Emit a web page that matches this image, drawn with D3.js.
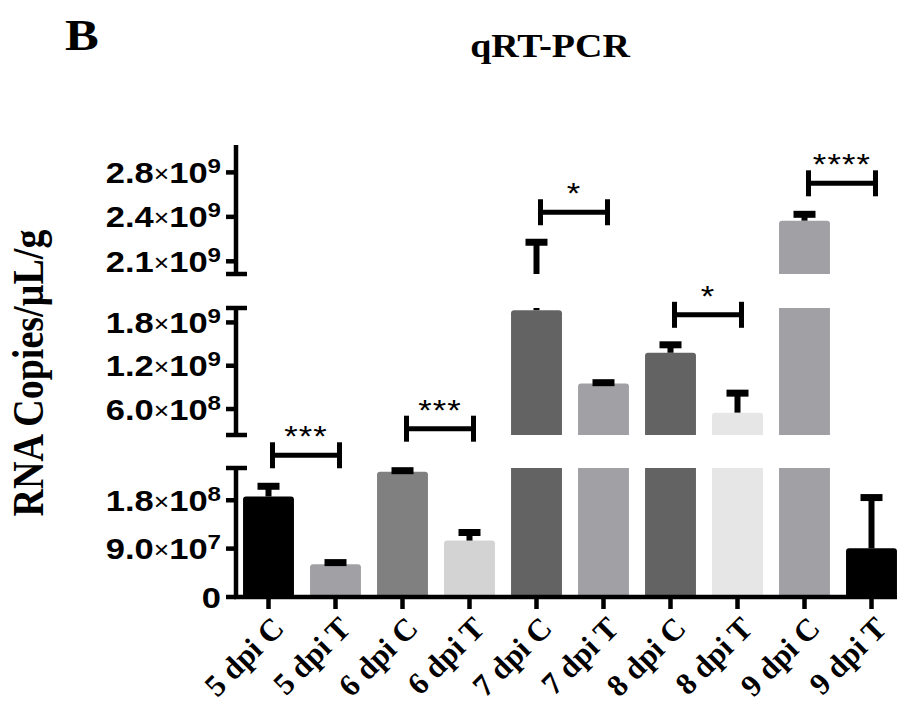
<!DOCTYPE html>
<html>
<head>
<meta charset="utf-8">
<script src="https://cdn.jsdelivr.net/npm/d3@7"></script>
<style>
  body { margin: 0; background: #fff; }
  svg { display: block; }
</style>
</head>
<body>
<svg id="chart" width="897" height="707"></svg>
<script>
// values
var categories = ['5 dpi C', '5 dpi T', '6 dpi C', '6 dpi T', '7 dpi C', '7 dpi T', '8 dpi C', '8 dpi T', '9 dpi C', '9 dpi T'];
var means = [1.87e8, 6.1e7, 2.33e8, 1.05e8, 1.97e9, 9.55e8, 1.38e9, 5.5e8, 2.42e9, 9.05e7];
var upper = [2.06e8, 6.4e7, 2.35e8, 1.2e8, 2.25e9, 9.65e8, 1.49e9, 8.2e8, 2.47e9, 1.85e8];
var fills = ['#000000', '#a1a0a5', '#808080', '#d3d3d3', '#636363', '#a1a0a5', '#636363', '#e6e6e6', '#a1a0a5', '#000000'];

// broken y axis: three pieces
var pieceDomains = [[0, 2.4e8], [2.4e8, 2.0e9], [2.0e9, 3.0e9]];
var tickValues = [[0, 9e7, 1.8e8], [6e8, 1.2e9, 1.8e9], [2.1e9, 2.45e9, 2.8e9]];
var tickLabels = [['0', '9.0×10^7', '1.8×10^8'], ['6.0×10^8', '1.2×10^9', '1.8×10^9'], ['2.1×10^9', '2.4×10^9', '2.8×10^9']];

// significance brackets [left, right, stars, lift above the taller error bar]
var brackets = [[0, 1, '***', 31], [2, 3, '***', 42], [4, 5, '*', 30], [6, 7, '*', 30], [8, 9, '****', 31]];

var SX = 1.15; // text in the reference is a bit wide
var svg = d3.select('#chart');
var axisX = 236, baseY = 597;

var pieceRanges = [[597, 468], [435, 308], [274, 147]];
var pieces = pieceDomains.map(function(d, i) {
    return { domain: d, y: d3.scaleLinear().domain(d).range(pieceRanges[i]) };
});

var x = d3.scaleBand().domain(categories).range([235, 905]).paddingInner(0.24).paddingOuter(0.12);
var bw = x.bandwidth();

function pieceOf(v) {
    for (var i = 0; i < pieces.length; i++) {
        if (v <= pieces[i].domain[1]) return pieces[i];
    }
    return pieces[pieces.length - 1];
}

// bars, split over the pieces
pieces.forEach(function(p) {
    var lo = p.domain[0], hi = p.domain[1];
    categories.forEach(function(c, i) {
        if (means[i] <= lo) return;
        var x0 = x(c), y0 = p.y(lo), y1 = p.y(Math.min(means[i], hi));
        var r = means[i] <= hi ? 3 : 0;
        var path = 'M' + x0 + ',' + y0 + 'L' + x0 + ',' + (y1 + r) +
            'Q' + x0 + ',' + y1 + ' ' + (x0 + r) + ',' + y1 +
            'L' + (x0 + bw - r) + ',' + y1 +
            'Q' + (x0 + bw) + ',' + y1 + ' ' + (x0 + bw) + ',' + (y1 + r) +
            'L' + (x0 + bw) + ',' + y0 + 'Z';
        svg.append('path').attr('d', path).attr('fill', fills[i]);
    });
});

// error bars (upper only)
pieces.forEach(function(p) {
    var lo = p.domain[0], hi = p.domain[1];
    categories.forEach(function(c, i) {
        if (upper[i] <= lo || means[i] >= hi) return;
        var cx = x(c) + bw / 2;
        svg.append('line')
            .attr('x1', cx).attr('x2', cx)
            .attr('y1', p.y(Math.max(means[i], lo)))
            .attr('y2', p.y(Math.min(upper[i], hi)))
            .attr('stroke', '#000').attr('stroke-width', 6);
        if (upper[i] <= hi) {
            svg.append('line')
                .attr('x1', cx - 11).attr('x2', cx + 11)
                .attr('y1', p.y(upper[i])).attr('y2', p.y(upper[i]))
                .attr('stroke', '#000').attr('stroke-width', 7);
        }
    });
});

// y axis pieces
pieces.forEach(function(p, k) {
    var yLo = p.y(p.domain[0]), yHi = p.y(p.domain[1]);
    svg.append('line').attr('x1', axisX).attr('x2', axisX)
        .attr('y1', k === 0 ? yLo + 2 : yLo).attr('y2', k === 2 ? yHi - 2 : yHi)
        .attr('stroke', '#000').attr('stroke-width', 4.5);
    if (k > 0) {
        svg.append('line').attr('x1', 226).attr('x2', 247).attr('y1', yLo).attr('y2', yLo)
            .attr('stroke', '#000').attr('stroke-width', 4.5);
    }
    if (k < 2) {
        svg.append('line').attr('x1', 226).attr('x2', 247).attr('y1', yHi).attr('y2', yHi)
            .attr('stroke', '#000').attr('stroke-width', 4.5);
    }
    tickValues[k].forEach(function(v, j) {
        var ty = p.y(v);
        svg.append('line').attr('x1', 226).attr('x2', axisX).attr('y1', ty).attr('y2', ty)
            .attr('stroke', '#000').attr('stroke-width', 4.5);
        var t = svg.append('text')
            .attr('transform', 'translate(221,' + (ty + 10.5) + ') scale(' + SX + ',1)')
            .attr('text-anchor', 'end')
            .attr('font-family', '"Liberation Sans", Arial, sans-serif')
            .attr('font-weight', 'bold').attr('font-size', 30);
        var lab = tickLabels[k][j];
        if (lab.indexOf('^') < 0) {
            t.text(lab);
        } else {
            var parts = lab.split('^');
            var mant = parts[0].split('×')[0];
            t.append('tspan').text(mant);
            t.append('tspan').attr('font-size', 23).attr('font-weight', 'normal').attr('dy', -1).text('×');
            t.append('tspan').attr('dy', 1).text('10');
            t.append('tspan').attr('font-size', 21).attr('dy', -10).text(parts[1]);
        }
    });
});

// x axis
svg.append('line').attr('x1', axisX - 2).attr('x2', 897).attr('y1', baseY).attr('y2', baseY)
    .attr('stroke', '#000').attr('stroke-width', 4.5);
categories.forEach(function(c) {
    var cx = x(c) + bw / 2;
    svg.append('line').attr('x1', cx).attr('x2', cx).attr('y1', baseY).attr('y2', baseY + 12)
        .attr('stroke', '#000').attr('stroke-width', 4.5);
    svg.append('text')
        .attr('transform', 'translate(' + (cx + 17) + ',' + (baseY + 33) + ') rotate(-45)')
        .attr('text-anchor', 'end')
        .attr('font-family', '"Liberation Serif", "Times New Roman", serif')
        .attr('font-weight', 'bold').attr('font-size', 31)
        .text(c);
});

// significance brackets
brackets.forEach(function(b) {
    var xa = x(categories[b[0]]) + bw / 2 + 4, xb = x(categories[b[1]]) + bw / 2 + 4;
    var topA = pieceOf(upper[b[0]]).y(upper[b[0]]), topB = pieceOf(upper[b[1]]).y(upper[b[1]]);
    var by = Math.min(topA, topB) - b[3];
    svg.append('line').attr('x1', xa).attr('x2', xb).attr('y1', by).attr('y2', by)
        .attr('stroke', '#000').attr('stroke-width', 5);
    [xa, xb].forEach(function(xx) {
        svg.append('line').attr('x1', xx).attr('x2', xx).attr('y1', by - 13).attr('y2', by + 13)
            .attr('stroke', '#000').attr('stroke-width', 5);
    });
    svg.append('text')
        .attr('transform', 'translate(' + ((xa + xb) / 2) + ',' + (by - 9) + ') scale(' + SX + ',1)')
        .attr('text-anchor', 'middle')
        .attr('font-family', '"Liberation Sans", Arial, sans-serif')
        .attr('font-size', 30)
        .attr('letter-spacing', 1)
        .text(b[2]);
});

// titles
svg.append('text')
    .attr('transform', 'translate(65,50) scale(' + SX + ',1)')
    .attr('font-family', '"Liberation Serif", "Times New Roman", serif')
    .attr('font-weight', 'bold').attr('font-size', 44)
    .text('B');
svg.append('text')
    .attr('transform', 'translate(550,57) scale(' + SX + ',1)')
    .attr('text-anchor', 'middle')
    .attr('font-family', '"Liberation Serif", "Times New Roman", serif')
    .attr('font-weight', 'bold').attr('font-size', 33)
    .text('qRT-PCR');
svg.append('text')
    .attr('transform', 'translate(43,373) scale(' + SX + ',1) rotate(-90)')
    .attr('text-anchor', 'middle')
    .attr('font-family', '"Liberation Serif", "Times New Roman", serif')
    .attr('font-weight', 'bold').attr('font-size', 38)
    .text('RNA Copies/µL/g');
</script>
</body>
</html>
